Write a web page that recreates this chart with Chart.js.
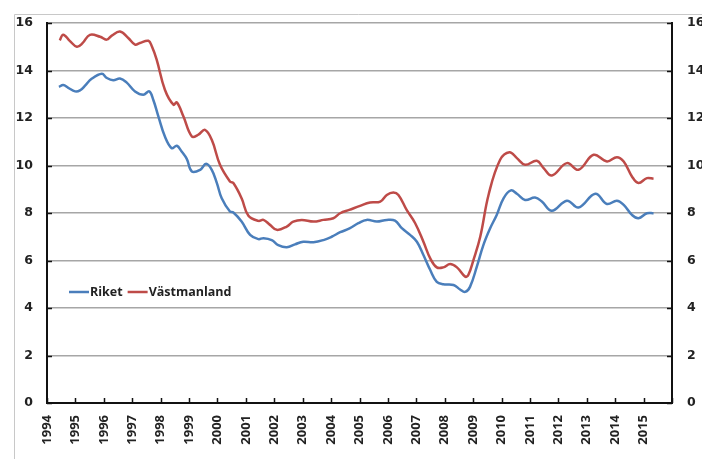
<!DOCTYPE html>
<html>
<head>
<meta charset="utf-8">
<script src="https://cdn.jsdelivr.net/npm/chart.js@4.4.1/dist/chart.umd.min.js"></script>
<style>
  body { margin: 0; background: #fff; }
  #wrap { width: 702px; height: 459px; }
</style>
</head>
<body>
<div id="wrap"><canvas id="grafica" width="702" height="459"></canvas></div>
<script>
// arbetslöshet, procent
var rikeX = [1994.42, 1994.57, 1994.75, 1994.99, 1995.16, 1995.34, 1995.57, 1995.93, 1996.10, 1996.33,
  1996.57, 1996.80, 1997.10, 1997.39, 1997.60, 1997.74, 1997.92, 1998.15, 1998.39, 1998.57,
  1998.74, 1998.92, 1999.10, 1999.39, 1999.60, 1999.80, 1999.98, 2000.15, 2000.44, 2000.56,
  2000.85, 2001.15, 2001.44, 2001.62, 2001.91, 2002.14, 2002.44, 2002.73, 2003.02, 2003.38,
  2003.73, 2004.02, 2004.32, 2004.65, 2004.96, 2005.25, 2005.61, 2005.96, 2006.25, 2006.49,
  2006.78, 2007.02, 2007.25, 2007.49, 2007.72, 2007.95, 2008.31, 2008.54, 2008.72, 2008.89,
  2009.13, 2009.36, 2009.60, 2009.83, 2010.07, 2010.33, 2010.54, 2010.83, 2011.18, 2011.42,
  2011.77, 2012.30, 2012.71, 2013.30, 2013.71, 2014.06, 2014.30, 2014.59, 2014.82, 2015.12, 2015.35];
var rikeY = [13.31, 13.39, 13.27, 13.12, 13.16, 13.36, 13.65, 13.86, 13.69, 13.59,
  13.66, 13.50, 13.12, 12.98, 13.12, 12.77, 12.07, 11.22, 10.73, 10.83,
  10.59, 10.28, 9.75, 9.82, 10.07, 9.82, 9.26, 8.62, 8.06, 8.02,
  7.64, 7.08, 6.90, 6.94, 6.86, 6.65, 6.56, 6.68, 6.79, 6.77,
  6.86, 7.00, 7.19, 7.35, 7.57, 7.71, 7.64, 7.71, 7.68, 7.36,
  7.08, 6.79, 6.23, 5.60, 5.10, 5.00, 4.97, 4.78, 4.68, 4.89,
  5.74, 6.65, 7.36, 7.92, 8.62, 8.95, 8.81, 8.55, 8.65, 8.48,
  8.09, 8.52, 8.23, 8.81, 8.38, 8.52, 8.34, 7.92, 7.78, 7.99, 7.99];

var vastX = [1994.45, 1994.57, 1994.80, 1995.05, 1995.25, 1995.51, 1995.87, 1996.10, 1996.28, 1996.57,
  1996.86, 1997.10, 1997.27, 1997.57, 1997.69, 1997.86, 1998.15, 1998.45, 1998.57, 1998.80,
  1999.10, 1999.33, 1999.56, 1999.80, 2000.09, 2000.44, 2000.56, 2000.85, 2001.09, 2001.44,
  2001.62, 2001.85, 2002.09, 2002.44, 2002.67, 2002.97, 2003.38, 2003.73, 2004.08, 2004.32,
  2004.64, 2005.02, 2005.37, 2005.73, 2005.96, 2006.19, 2006.37, 2006.66, 2006.96, 2007.25,
  2007.49, 2007.72, 2007.95, 2008.19, 2008.43, 2008.72, 2008.83, 2009.01, 2009.25, 2009.55,
  2009.95, 2010.28, 2010.54, 2010.83, 2011.24, 2011.48, 2011.77, 2012.30, 2012.71, 2013.24,
  2013.71, 2014.06, 2014.30, 2014.59, 2014.82, 2015.12, 2015.35];
var vastY = [15.27, 15.51, 15.25, 15.00, 15.15, 15.50, 15.42, 15.30, 15.47, 15.64,
  15.37, 15.09, 15.16, 15.25, 15.02, 14.46, 13.19, 12.56, 12.66, 12.07,
  11.22, 11.30, 11.50, 11.08, 10.03, 9.33, 9.26, 8.62, 7.88, 7.67,
  7.71, 7.50, 7.29, 7.43, 7.64, 7.71, 7.64, 7.71, 7.78, 7.99,
  8.13, 8.30, 8.44, 8.48, 8.76, 8.86, 8.76, 8.13, 7.57, 6.79,
  6.09, 5.71, 5.71, 5.85, 5.71, 5.32, 5.39, 6.02, 7.00, 8.80,
  10.24, 10.56, 10.31, 10.03, 10.20, 9.89, 9.58, 10.10, 9.82, 10.45,
  10.17, 10.35, 10.17, 9.54, 9.26, 9.47, 9.44];

var serieNamn = ['Riket', 'Västmanland'];
var serieFarg = ['#4A7EBB', '#BE4B48'];
var arMin = 1994, arMax = 2016;
var yMax = 16, ySteg = 2;

function punkter(xs, ys) {
    return xs.map(function(x, i) { return { x: x, y: ys[i] }; });
}

/* ram, inre tickmarkeringar och legend */
var extras = {
    id: 'extras',
    beforeDraw: function(chart) {
        var ctx = chart.ctx;
        ctx.save();
        ctx.fillStyle = '#fff';
        ctx.fillRect(0, 0, chart.width, chart.height);
        ctx.strokeStyle = '#c8c8c8';
        ctx.lineWidth = 1;
        ctx.beginPath();
        ctx.moveTo(14.5, chart.height);
        ctx.lineTo(14.5, 14.5);
        ctx.lineTo(chart.width, 14.5);
        ctx.stroke();
        ctx.restore();
    },
    afterDraw: function(chart) {
        var ctx = chart.ctx, a = chart.chartArea;
        var sx = chart.scales.x, sy = chart.scales.y;
        ctx.save();
        ctx.strokeStyle = '#111';
        ctx.lineWidth = 1.5;
        ctx.beginPath();
        sy.ticks.forEach(function(t) {
            var p = Math.round(sy.getPixelForValue(t.value)) + 0.5;
            ctx.moveTo(a.left, p); ctx.lineTo(a.left + 5, p);
            ctx.moveTo(a.right - 5, p); ctx.lineTo(a.right, p);
        });
        sx.ticks.forEach(function(t) {
            var p = Math.round(sx.getPixelForValue(t.value)) + 0.5;
            ctx.moveTo(p, a.bottom); ctx.lineTo(p, a.bottom - 5);
        });
        ctx.stroke();

        // legend
        var lx = 69, ly = 292;
        ctx.font = "bold 12.5px 'Open Sans', sans-serif";
        ctx.textBaseline = 'middle';
        ctx.lineWidth = 2.5;
        chart.data.datasets.forEach(function(ds) {
            ctx.strokeStyle = ds.borderColor;
            ctx.beginPath();
            ctx.moveTo(lx, ly); ctx.lineTo(lx + 20, ly);
            ctx.stroke();
            ctx.fillStyle = '#222';
            ctx.fillText(ds.label, lx + 21, ly);
            lx += 21 + ctx.measureText(ds.label).width + 5;
        });
        ctx.restore();
    }
};

var ctx = document.getElementById('grafica').getContext('2d');
window.myLine = new Chart(ctx, {
    type: 'line',
    data: {
        datasets: [{
            label: serieNamn[0],
            data: punkter(rikeX, rikeY),
            borderColor: serieFarg[0],
            borderWidth: 2.5,
            pointRadius: 0,
            tension: 0.4,
            fill: false
        }, {
            label: serieNamn[1],
            data: punkter(vastX, vastY),
            borderColor: serieFarg[1],
            borderWidth: 2.5,
            pointRadius: 0,
            tension: 0.4,
            fill: false
        }]
    },
    options: {
        responsive: false,
        animation: false,
        layout: { padding: { top: 23, left: 0, right: 0, bottom: 0 } },
        plugins: {
            legend: { display: false },
            tooltip: { enabled: false }
        },
        scales: {
            x: {
                type: 'linear',
                min: arMin,
                max: arMax,
                grid: { display: false, drawTicks: false },
                border: { color: '#111', width: 2 },
                afterFit: function(s) { s.height = 56; },
                ticks: {
                    stepSize: 1,
                    autoSkip: false,
                    minRotation: 90,
                    maxRotation: 90,
                    padding: 12,
                    color: '#222',
                    font: { family: "'Liberation Sans Narrow', 'Open Sans', sans-serif", weight: 'bold', size: 13 },
                    callback: function(v) { return v < arMax ? String(v) : ''; }
                }
            },
            y: {
                position: 'left',
                min: 0,
                max: yMax,
                grid: { color: '#a6a6a6', lineWidth: 1.5, drawTicks: false },
                border: { color: '#111', width: 2 },
                afterFit: function(s) { s.width = 47; },
                ticks: {
                    stepSize: ySteg,
                    padding: 14,
                    color: '#222',
                    font: { family: "'DejaVu Sans', sans-serif", weight: 'bold', size: 12.5 }
                }
            },
            y2: {
                position: 'right',
                min: 0,
                max: yMax,
                grid: { display: false, drawTicks: false },
                border: { color: '#111', width: 2 },
                afterFit: function(s) { s.width = 30; },
                ticks: {
                    stepSize: ySteg,
                    padding: 15,
                    color: '#222',
                    font: { family: "'DejaVu Sans', sans-serif", weight: 'bold', size: 12.5 }
                }
            }
        }
    },
    plugins: [extras]
});
</script>
</body>
</html>
